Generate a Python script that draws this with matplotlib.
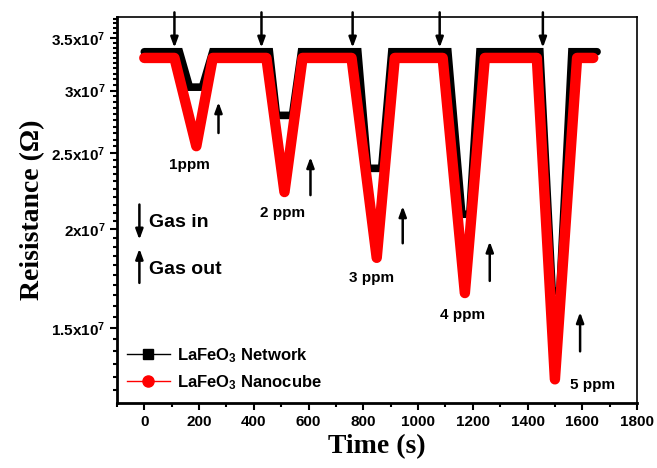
import numpy as np
import matplotlib
matplotlib.use("Agg")
import matplotlib.pyplot as plt
from matplotlib.ticker import FixedLocator, MultipleLocator, FuncFormatter
from matplotlib.lines import Line2D

plt.rcParams['font.family'] = ['Liberation Sans', 'DejaVu Sans']
plt.rcParams['font.weight'] = 'bold'
plt.rcParams['mathtext.fontset'] = 'custom'
plt.rcParams['mathtext.rm'] = 'Liberation Sans:bold'
plt.rcParams['mathtext.bf'] = 'Liberation Sans:bold'
plt.rcParams['mathtext.it'] = 'Liberation Sans:bold'

# ---- data (time in s, resistance in ohm) ----
t_network = [0, 128, 165, 212, 250, 457, 483, 541, 574, 780, 816, 867, 904,
             1109, 1160, 1189, 1226, 1445, 1490, 1518, 1562, 1654]
r_network = [3.36, 3.36, 3.03, 3.03, 3.36, 3.36, 2.79, 2.79, 3.36, 3.36, 2.39, 2.39, 3.36,
             3.36, 2.09, 2.09, 3.36, 3.36, 1.67, 1.67, 3.36, 3.36]
t_nanocube = [0, 110, 190, 250, 446, 512, 578, 757, 849, 915, 1090, 1171, 1244,
              1434, 1500, 1581, 1640]
r_nanocube = [3.30, 3.30, 2.55, 3.30, 3.30, 2.23, 3.30, 3.30, 1.84, 3.30, 3.30, 1.66, 3.30,
              3.30, 1.29, 3.30, 3.30]

gas_in_t = [110, 428, 761, 1079, 1456]
gas_out_t = [271, 607, 944, 1262, 1592]
gas_out_tip = [2.90, 2.47, 2.14, 1.93, 1.57]
gas_out_tail = [2.65, 2.21, 1.92, 1.72, 1.40]

ppm_labels = ['1ppm', '2 ppm', '3 ppm', '4 ppm', '5 ppm']
ppm_t = [165, 505, 831, 1164, 1639]
ppm_r = [2.41, 2.10, 1.735, 1.557, 1.269]

yticks = [1.5, 2.0, 2.5, 3.0, 3.5]
xticks = [0, 200, 400, 600, 800, 1000, 1200, 1400, 1600, 1800]

fig = plt.figure(figsize=(6.57, 4.68), dpi=100)
ax = fig.add_axes([0.178, 0.139, 0.7916, 0.8248])

E = 1e7
ax.plot(t_network, np.array(r_network) * E, color='black', lw=5.5,
        solid_joinstyle='miter', solid_capstyle='round', zorder=2)
ax.plot(t_nanocube, np.array(r_nanocube) * E, color='#ff0000', lw=7.5,
        solid_joinstyle='round', solid_capstyle='round', zorder=3)

ax.set_yscale('log')
ax.set_ylim(1.204e7, 3.72e7)
ax.set_xlim(-100, 1800)

ax.yaxis.set_major_locator(FixedLocator([v * E for v in yticks]))
ax.yaxis.set_minor_locator(FixedLocator(np.arange(1.2, 3.75, 0.05) * E))


def yfmt(v, pos):
    m = v / E
    s = ('%g' % round(m, 2))
    return s + r'x10$^{\mathrm{7}}$'


ax.yaxis.set_major_formatter(FuncFormatter(yfmt))
ax.yaxis.set_minor_formatter(FuncFormatter(lambda v, p: ''))
ax.xaxis.set_major_locator(FixedLocator(xticks))
ax.xaxis.set_minor_locator(MultipleLocator(100))

ax.tick_params(axis='both', which='major', direction='out', length=5, width=1.5,
               labelsize=11, top=False, right=False)
ax.tick_params(axis='both', which='minor', direction='out', length=3, width=1.5,
               top=False, right=False)
for lab in ax.get_xticklabels() + ax.get_yticklabels():
    lab.set_fontweight('bold')
for side in ['left', 'bottom']:
    ax.spines[side].set_linewidth(2)
for side in ['top', 'right']:
    ax.spines[side].set_linewidth(1.2)

ax.set_xlabel('Time (s)', family='Liberation Serif', fontweight='bold', fontsize=20, labelpad=4)
ax.set_ylabel('Reisistance (Ω)', family='Liberation Serif', fontweight='bold', fontsize=20, labelpad=4)

arrow_kw = dict(arrowstyle='-|>,head_length=0.6,head_width=0.22', color='black', lw=1.8,
                shrinkA=0, shrinkB=0)
for t in gas_in_t:
    ax.annotate('', xy=(t, 3.40e7), xytext=(t, 3.77e7), arrowprops=arrow_kw,
                annotation_clip=False, zorder=5)
for t, tip, tail in zip(gas_out_t, gas_out_tip, gas_out_tail):
    ax.annotate('', xy=(t, tip * E), xytext=(t, tail * E), arrowprops=arrow_kw, zorder=5)

for lab, t, r in zip(ppm_labels, ppm_t, ppm_r):
    ax.text(t, r * E, lab, ha='center', va='center', fontsize=11, fontweight='bold')

# key for arrows
ax.annotate('', xy=(-18, 1.94e7), xytext=(-18, 2.15e7), arrowprops=arrow_kw)
ax.annotate('', xy=(-18, 1.89e7), xytext=(-18, 1.71e7), arrowprops=arrow_kw)
ax.text(18, 2.04e7, 'Gas in', ha='left', va='center', fontsize=14, fontweight='bold')
ax.text(18, 1.78e7, 'Gas out', ha='left', va='center', fontsize=14, fontweight='bold')

handles = [Line2D([], [], color='black', lw=1, marker='s', markersize=7),
           Line2D([], [], color='#ff0000', lw=1, marker='o', markersize=8)]
ax.legend(handles, [r'LaFeO$_{\mathrm{3}}$ Network', r'LaFeO$_{\mathrm{3}}$ Nanocube'],
          loc='lower left', bbox_to_anchor=(-0.01, -0.01), frameon=False,
          prop={'weight': 'bold', 'size': 12}, handlelength=2.6, handletextpad=0.4,
          labelspacing=0.5)

fig.savefig('out.png', dpi=100)
